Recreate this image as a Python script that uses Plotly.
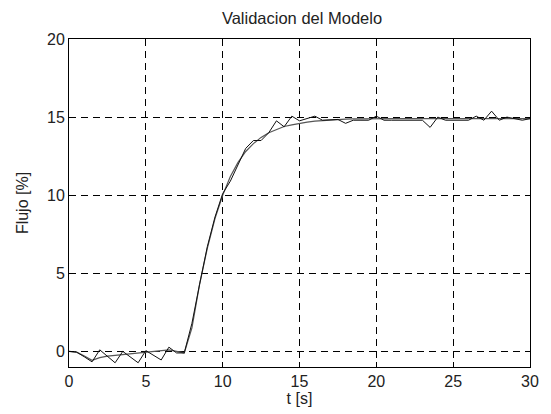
import plotly.graph_objects as go

# Measured data (sampled every 0.5 s)
t_meas = [i * 0.5 for i in range(61)]
y_meas = [0.0, -0.05, -0.35, -0.67, 0.1, -0.3, -0.73, 0.0, -0.35, -0.73,
          0.05, -0.25, -0.55, 0.27, -0.1, -0.1, 1.8, 4.3, 6.7, 8.6,
          10.1, 10.9, 11.9, 13.0, 13.5, 13.5, 14.0, 14.76, 14.38, 15.06,
          14.76, 14.9, 15.06, 14.8, 14.82, 14.85, 14.6, 14.8, 14.8, 14.8,
          15.06, 14.8, 14.8, 14.8, 14.8, 14.8, 14.8, 14.34, 15.0, 14.8,
          14.8, 14.8, 14.8, 15.06, 14.8, 15.38, 14.8, 15.0, 14.9, 14.8,
          14.9]

# Model response
t_model = [i * 0.5 for i in range(61)]
y_model = [0.0, -0.05, -0.3, -0.57, -0.4, -0.3, -0.25, -0.2, -0.15, -0.1,
           -0.05, 0.0, 0.05, 0.1, 0.0, -0.1, 1.5, 4.3, 6.6, 8.5,
           10.0, 11.2, 12.1, 12.8, 13.3, 13.7, 14.0, 14.22, 14.4, 14.5,
           14.6, 14.68, 14.74, 14.78, 14.82, 14.85, 14.87, 14.88, 14.89, 14.9,
           14.9, 14.9, 14.9, 14.9, 14.9, 14.9, 14.9, 14.9, 14.9, 14.9,
           14.9, 14.9, 14.9, 14.9, 14.9, 14.9, 14.9, 14.9, 14.9, 14.9,
           14.9]

x_ticks = [0, 5, 10, 15, 20, 25, 30]
y_ticks = [0, 5, 10, 15, 20]

fig = go.Figure()
fig.add_trace(go.Scatter(x=t_model, y=y_model, mode="lines",
                         line=dict(color="#555555", width=1.2), showlegend=False))
fig.add_trace(go.Scatter(x=t_meas, y=y_meas, mode="lines",
                         line=dict(color="#111111", width=1), showlegend=False))

axis_common = dict(
    showline=True, linecolor="black", linewidth=1, mirror="ticks",
    ticks="inside", ticklen=5, tickcolor="black", tickwidth=1,
    showgrid=True, gridcolor="black", gridwidth=1, griddash="7px,5px",
    zeroline=False, tickfont=dict(size=16, color="#222"),
)

fig.update_layout(
    width=551, height=414,
    margin=dict(l=69, r=16, t=39, b=46),
    paper_bgcolor="white", plot_bgcolor="white",
    font=dict(family="Liberation Sans, Arial, sans-serif", color="#222"),
    title=dict(text="Validacion del Modelo", x=(69 + 535) / 2 / 551, xanchor="center",
               y=1 - 18 / 414, yanchor="middle", font=dict(size=16.5)),
    xaxis=dict(range=[0, 30], tickvals=x_ticks,
               title=dict(text="t [s]", font=dict(size=16), standoff=1), **axis_common),
    yaxis=dict(range=[-1, 20], tickvals=y_ticks,
               title=dict(text="Flujo [%]", font=dict(size=16), standoff=14), **axis_common),
)

fig.write_html("out.html")
